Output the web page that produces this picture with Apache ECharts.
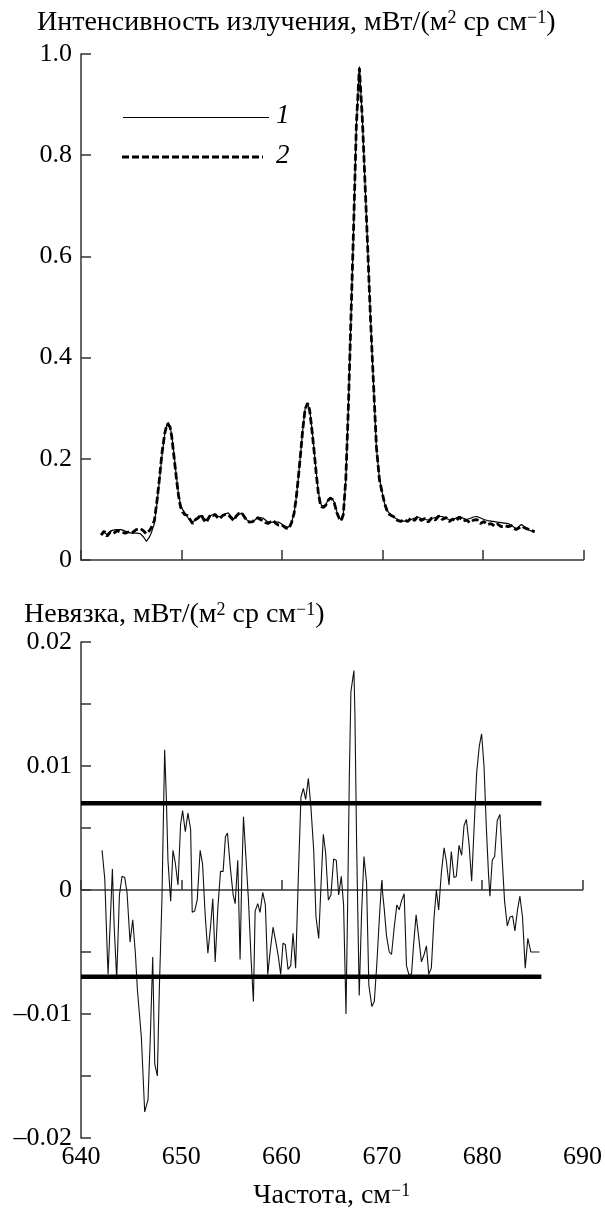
<!DOCTYPE html>
<html>
<head>
<meta charset="utf-8">
<script src="https://cdn.jsdelivr.net/npm/echarts@6/dist/echarts.min.js"></script>
<style>
html,body{margin:0;padding:0;background:#fff;}
#chart{width:605px;height:1211px;}
</style>
</head>
<body>
<div id="chart"></div>
<script>
// ---- Data ----
const topTitle = 'Интенсивность излучения, мВт/(м{sup|2} ср см{sup|−1})';
const bottomTitle = 'Невязка, мВт/(м{sup|2} ср см{sup|−1})';
const xName = 'Частота, см{sup|−1}';
const legendLabels = ['1', '2'];
const xTicks = [640, 650, 660, 670, 680, 690];

const topFreq = [642.0,642.3,642.6,642.9,643.2,643.6,644.0,644.4,644.8,645.1,645.5,645.9,646.2,646.5,646.8,647.0,647.3,647.55,647.8,648.05,648.33,648.55,648.7,648.85,649.02,649.25,649.47,649.7,649.9,650.1,650.3,650.6,650.85,651.1,651.4,651.65,651.95,652.2,652.45,652.7,652.9,653.15,653.35,653.6,653.85,654.1,654.35,654.65,654.9,655.2,655.45,655.7,656.0,656.3,656.55,656.8,657.1,657.35,657.6,657.85,658.1,658.35,658.6,658.9,659.15,659.4,659.65,659.9,660.15,660.4,660.68,660.95,661.2,661.4,661.6,661.85,662.05,662.3,662.55,662.75,662.95,663.18,663.4,663.6,663.8,663.95,664.15,664.35,664.6,664.8,665.0,665.2,665.45,665.7,665.9,666.1,666.35,666.6,666.85,667.1,667.4,667.7,668.0,668.25,668.5,668.8,669.1,669.4,669.7,669.95,670.2,670.45,670.7,670.97,671.25,671.5,671.8,672.1,672.5,672.85,673.2,673.5,673.85,674.2,674.55,674.9,675.25,675.6,675.95,676.3,676.65,676.97,677.3,677.65,678.0,678.35,678.7,679.05,679.4,679.75,680.1,680.45,680.8,681.15,681.45,681.8,682.15,682.5,682.8,683.05,683.3,683.55,683.83,684.1,684.35,684.6,684.85,685.13];
const measured = [0.051,0.055,0.050,0.057,0.059,0.060,0.060,0.057,0.054,0.053,0.053,0.052,0.046,0.037,0.045,0.054,0.072,0.11,0.156,0.205,0.248,0.268,0.272,0.265,0.248,0.21,0.169,0.13,0.11,0.1,0.094,0.085,0.078,0.075,0.079,0.085,0.088,0.083,0.079,0.085,0.088,0.09,0.091,0.087,0.085,0.089,0.091,0.093,0.087,0.081,0.086,0.09,0.093,0.086,0.078,0.076,0.075,0.08,0.085,0.084,0.083,0.079,0.075,0.075,0.075,0.075,0.075,0.072,0.068,0.066,0.065,0.075,0.091,0.12,0.156,0.21,0.254,0.30,0.309,0.298,0.265,0.221,0.175,0.137,0.115,0.107,0.107,0.109,0.119,0.124,0.121,0.114,0.096,0.084,0.078,0.09,0.16,0.3,0.47,0.64,0.86,0.975,0.87,0.75,0.63,0.48,0.35,0.22,0.16,0.135,0.112,0.098,0.092,0.088,0.083,0.08,0.078,0.077,0.077,0.08,0.083,0.085,0.082,0.08,0.079,0.082,0.084,0.086,0.086,0.082,0.08,0.079,0.083,0.086,0.083,0.08,0.082,0.085,0.086,0.083,0.08,0.078,0.077,0.076,0.075,0.074,0.073,0.072,0.069,0.065,0.062,0.066,0.07,0.066,0.062,0.059,0.057,0.055];
const computed = [0.049,0.057,0.047,0.055,0.052,0.058,0.055,0.053,0.056,0.054,0.060,0.062,0.058,0.052,0.058,0.064,0.078,0.115,0.16,0.21,0.25,0.268,0.27,0.264,0.245,0.205,0.165,0.128,0.105,0.095,0.09,0.088,0.08,0.072,0.08,0.083,0.09,0.08,0.074,0.083,0.09,0.088,0.09,0.083,0.082,0.088,0.09,0.09,0.084,0.078,0.087,0.092,0.093,0.084,0.076,0.075,0.076,0.082,0.083,0.08,0.078,0.074,0.072,0.076,0.078,0.072,0.069,0.07,0.067,0.063,0.062,0.074,0.092,0.12,0.158,0.21,0.255,0.298,0.31,0.296,0.262,0.218,0.172,0.135,0.112,0.105,0.104,0.108,0.118,0.122,0.12,0.113,0.094,0.082,0.078,0.09,0.16,0.3,0.47,0.64,0.86,0.972,0.87,0.75,0.63,0.48,0.35,0.222,0.158,0.135,0.112,0.098,0.09,0.087,0.084,0.078,0.076,0.08,0.076,0.083,0.078,0.086,0.078,0.082,0.075,0.083,0.079,0.087,0.08,0.084,0.076,0.081,0.077,0.085,0.077,0.079,0.074,0.079,0.08,0.072,0.076,0.07,0.072,0.067,0.071,0.066,0.068,0.066,0.068,0.063,0.06,0.063,0.067,0.064,0.062,0.06,0.058,0.056];

const resFreq = [642.10,642.37,642.64,642.70,642.87,643.13,643.30,643.56,643.83,644.09,644.36,644.59,644.89,645.16,645.42,645.62,646.02,646.35,646.68,646.91,647.15,647.35,647.61,647.81,648.07,648.34,648.51,648.67,648.94,649.17,649.40,649.67,649.93,650.13,650.40,650.66,650.93,651.09,651.33,651.59,651.88,652.12,652.38,652.65,652.91,653.14,653.38,653.64,653.91,654.17,654.40,654.60,654.90,655.17,655.37,655.63,655.86,656.03,656.20,656.36,656.69,656.96,657.19,657.36,657.62,657.85,658.12,658.38,658.62,658.88,659.15,659.45,659.68,659.91,660.14,660.37,660.64,660.91,661.14,661.40,661.67,661.93,662.17,662.40,662.67,662.93,663.20,663.43,663.70,663.93,664.16,664.39,664.66,664.92,665.19,665.45,665.69,665.95,666.18,666.42,666.58,666.75,666.91,667.21,667.31,667.48,667.74,667.97,668.21,668.47,668.70,669.00,669.24,669.50,669.73,669.97,670.23,670.46,670.73,670.96,671.23,671.49,671.72,671.95,672.22,672.45,672.68,672.95,673.18,673.41,673.71,673.94,674.21,674.44,674.67,674.93,675.20,675.43,675.66,675.93,676.20,676.43,676.69,676.92,677.19,677.42,677.69,677.95,678.19,678.42,678.68,678.95,679.18,679.45,679.71,679.94,680.18,680.41,680.64,680.77,681.00,681.24,681.50,681.77,682.00,682.23,682.50,682.76,683.03,683.26,683.52,683.76,684.02,684.29,684.55,684.85,685.70];
const residual = [0.0032,0.0009,-0.0056,-0.0068,-0.0068,0.0017,-0.0028,-0.0072,-0.0004,0.0011,0.0010,-0.0002,-0.0042,-0.0024,-0.0051,-0.0080,-0.0119,-0.0179,-0.0169,-0.0119,-0.0054,-0.0140,-0.0150,-0.0080,-0.0007,0.0113,0.0074,0.0024,-0.0009,0.0032,0.0022,0.0004,0.0053,0.0064,0.0047,0.0062,0.0049,-0.0018,-0.0017,-0.0008,0.0032,0.0021,-0.0020,-0.0051,-0.0030,-0.0007,-0.0058,-0.0015,0.0015,0.0015,0.0043,0.0046,0.0017,-0.0004,-0.0011,0.0024,-0.0056,0.0011,0.0059,0.0058,-0.0007,-0.0056,-0.0090,-0.0017,-0.0011,-0.0018,-0.0002,-0.0012,-0.0068,-0.0048,-0.0030,-0.0043,-0.0054,-0.0068,-0.0043,-0.0044,-0.0064,-0.0061,-0.0035,-0.0063,0.0011,0.0075,0.0082,0.0073,0.0090,0.0066,0.0032,-0.0022,-0.0039,0.0004,0.0045,0.0030,-0.0008,-0.0004,0.0025,0.0024,-0.0004,0.0011,-0.0012,-0.0100,-0.0015,0.0090,0.0160,0.0177,0.0142,0.0037,-0.0085,-0.0020,0.0027,0.0006,-0.0077,-0.0094,-0.0090,-0.0059,-0.0025,0.0006,-0.0015,-0.0037,-0.0050,-0.0052,-0.0030,-0.0012,-0.0016,-0.0009,-0.0003,-0.0061,-0.0068,-0.0068,-0.0042,-0.0020,-0.0041,-0.0058,-0.0052,-0.0045,-0.0068,-0.0063,-0.0022,0.0000,-0.0016,0.0014,0.0034,0.0023,0.0004,0.0031,0.0010,0.0011,0.0036,0.0028,0.0052,0.0057,0.0038,0.0007,0.0048,0.0095,0.0116,0.0126,0.0100,0.0051,0.0011,-0.0005,0.0024,0.0027,0.0056,0.0061,0.0024,-0.0009,-0.0029,-0.0022,-0.0021,-0.0033,-0.0016,-0.0005,-0.0022,-0.0063,-0.0039,-0.0050,-0.0050];

const bandFreq = [640, 685.9];
const bandLevel = 0.007;

// ---- Chart ----
const FONT = 'Liberation Serif';
const chart = echarts.init(document.getElementById('chart'), null, {renderer: 'canvas'});
const supRich = {sup: {fontFamily: FONT, fontSize: 18, verticalAlign: 'top', lineHeight: 15, color: '#000'}};

function fmtSigned(v, digits) {
  if (Math.abs(v) < 1e-12) return '0';
  const s = Math.abs(v).toFixed(digits);
  return (v < 0 ? '\u2013' : '') + s;
}

const axisLineStyle = {color: '#333', width: 1.5};
const labelStyle = {fontFamily: FONT, fontSize: 26, color: '#000'};

const option = {
  animation: false,
  backgroundColor: '#fff',
  title: [
    {text: topTitle, left: 32, top: 4, textStyle: {fontFamily: FONT, fontSize: 28, fontWeight: 'normal', color: '#000', rich: supRich}},
    {text: bottomTitle, left: 19, top: 596, textStyle: {fontFamily: FONT, fontSize: 28, fontWeight: 'normal', color: '#000', rich: supRich}}
  ],
  grid: [
    {left: 81, right: 21.5, top: 54, height: 506},
    {left: 81, right: 21.5, top: 642, height: 512}
  ],
  xAxis: [
    {type: 'value', gridIndex: 0, min: xTicks[0], max: xTicks[xTicks.length - 1], interval: 10,
     axisLine: {lineStyle: axisLineStyle}, axisTick: {inside: true, length: 10, lineStyle: axisLineStyle},
     axisLabel: {show: false}, splitLine: {show: false}},
    {type: 'value', gridIndex: 1, min: xTicks[0], max: xTicks[xTicks.length - 1], interval: 10,
     name: xName, nameLocation: 'middle', nameGap: 44,
     nameTextStyle: {fontFamily: FONT, fontSize: 28, color: '#000', rich: supRich},
     axisLine: {lineStyle: axisLineStyle}, axisTick: {inside: true, length: 10, lineStyle: axisLineStyle},
     axisLabel: Object.assign({margin: 6, showMaxLabel: true, showMinLabel: true}, labelStyle), splitLine: {show: false}}
  ],
  yAxis: [
    {type: 'value', gridIndex: 0, min: 0, max: 1.0, interval: 0.2,
     axisLine: {show: true, lineStyle: axisLineStyle}, axisTick: {show: true, inside: true, length: 10, lineStyle: axisLineStyle},
     axisLabel: Object.assign({margin: 9, formatter: v => fmtSigned(v, 1)}, labelStyle), splitLine: {show: false}},
    {type: 'value', gridIndex: 1, min: -0.02, max: 0.02, interval: 0.005,
     axisLine: {show: true, lineStyle: axisLineStyle}, axisTick: {show: true, inside: true, length: 10, lineStyle: axisLineStyle},
     axisLabel: Object.assign({margin: 9, formatter: v => (Math.round(v * 1000) % 10 === 0 ? fmtSigned(v, 2) : '')}, labelStyle),
     splitLine: {show: false}}
  ],
  series: [
    {name: legendLabels[0], type: 'line', xAxisIndex: 0, yAxisIndex: 0, symbol: 'none',
     data: topFreq.map((f, i) => [f, measured[i]]), lineStyle: {color: '#000', width: 1.2}, z: 3},
    {name: legendLabels[1], type: 'line', xAxisIndex: 0, yAxisIndex: 0, symbol: 'none',
     data: topFreq.map((f, i) => [f, computed[i]]), lineStyle: {color: '#000', width: 2.8, type: [7, 3]}, z: 2},
    {type: 'line', xAxisIndex: 1, yAxisIndex: 1, symbol: 'none',
     data: resFreq.map((f, i) => [f, residual[i]]), lineStyle: {color: '#111', width: 1.1}},
    {type: 'line', xAxisIndex: 1, yAxisIndex: 1, symbol: 'none',
     data: bandFreq.map(f => [f, bandLevel]), lineStyle: {color: '#000', width: 4.5}},
    {type: 'line', xAxisIndex: 1, yAxisIndex: 1, symbol: 'none',
     data: bandFreq.map(f => [f, -bandLevel]), lineStyle: {color: '#000', width: 4.5}}
  ],
  graphic: [
    {type: 'line', shape: {x1: 123, y1: 117.5, x2: 269, y2: 117.5}, style: {stroke: '#000', lineWidth: 1.2}},
    {type: 'text', left: 276, top: 102, style: {text: legendLabels[0], font: 'italic 27px "Liberation Serif"', fill: '#000'}},
    {type: 'line', shape: {x1: 122, y1: 157, x2: 263, y2: 157}, style: {stroke: '#000', lineWidth: 2.8, lineDash: [7, 3]}},
    {type: 'text', left: 276, top: 142, style: {text: legendLabels[1], font: 'italic 27px "Liberation Serif"', fill: '#000'}}
  ]
};
chart.setOption(option);
</script>
</body>
</html>
